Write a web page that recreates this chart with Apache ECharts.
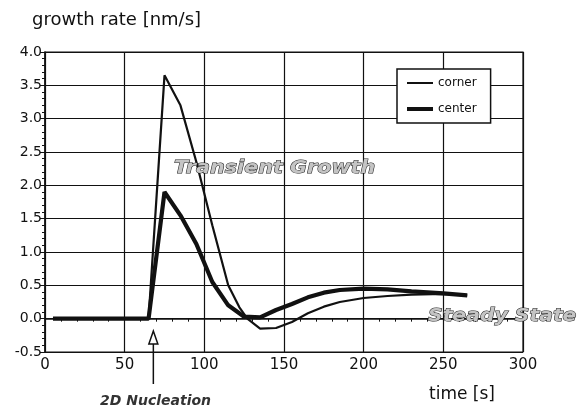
<!DOCTYPE html>
<html><head><meta charset="utf-8">
<script src="https://cdn.jsdelivr.net/npm/echarts@6/dist/echarts.min.js"></script>
<style>html,body{margin:0;padding:0;background:#fff}#c{width:580px;height:409px}</style>
</head><body><div id="c"></div>
<script>
// time [s]
const cornerTime = [5, 65, 75, 85, 95, 105, 115, 122, 127, 135, 145, 155, 165, 175, 185, 200, 215, 230, 250, 265];
const cornerRate = [0, 0, 3.65, 3.2, 2.35, 1.4, 0.5, 0.17, 0.0, -0.15, -0.14, -0.05, 0.08, 0.18, 0.25, 0.31, 0.34, 0.36, 0.37, 0.35];
const centerTime = [5, 65, 75, 85, 95, 105, 115, 125, 135, 145, 155, 165, 175, 185, 200, 215, 230, 250, 265];
const centerRate = [0, 0, 1.9, 1.55, 1.12, 0.55, 0.2, 0.03, 0.02, 0.13, 0.22, 0.32, 0.39, 0.43, 0.45, 0.44, 0.41, 0.38, 0.35];
const seriesNames = ['corner', 'center'];
const yLabel = 'growth rate [nm/s]';
const xLabel = 'time [s]';
const annotations = ['Transient Growth', 'Steady State', '2D Nucleation'];
const nucleationTime = 68;

const pair = (xs, ys) => xs.map((x, i) => [x, ys[i]]);
const FONT = 'DejaVu Sans';
const chart = echarts.init(document.getElementById('c'), null, {renderer: 'canvas'});
chart.setOption({
  animation: false,
  backgroundColor: '#fff',
  title: [
    {text: yLabel, left: 27, top: 6, textStyle: {fontFamily: FONT, fontSize: 18, fontWeight: 'normal', color: '#111'}},
    {text: xLabel, left: 424, top: 381, textStyle: {fontFamily: FONT, fontSize: 17, fontWeight: 'normal', color: '#111'}}
  ],
  grid: {left: 45, right: 57, top: 52, bottom: 57, show: true, borderColor: '#111', borderWidth: 1.2, backgroundColor: 'transparent'},
  legend: {
    orient: 'vertical', left: 397, top: 69,
    data: [
      {name: seriesNames[0], lineStyle: {width: 2}},
      {name: seriesNames[1], lineStyle: {width: 4}}
    ],
    itemStyle: {opacity: 0},
    itemWidth: 26, itemHeight: 12, itemGap: 14,
    padding: [8, 14, 8, 8],
    borderColor: '#111', borderWidth: 1.5, backgroundColor: '#fff',
    textStyle: {fontFamily: FONT, fontSize: 12, color: '#111'}
  },
  xAxis: {
    type: 'value', min: 0, max: 300, interval: 50,
    axisLine: {lineStyle: {color: '#111', width: 1.5}},
    axisTick: {show: true, length: 5, lineStyle: {color: '#111'}},
    minorTick: {show: true, splitNumber: 5, length: 3, lineStyle: {color: '#111'}},
    axisLabel: {fontFamily: FONT, fontSize: 15, color: '#111', margin: 6},
    splitLine: {show: true, lineStyle: {color: '#111', width: 1.2}}
  },
  yAxis: {
    type: 'value', min: -0.5, max: 4.0, interval: 0.5,
    axisLine: {show: true, lineStyle: {color: '#111', width: 1.5}},
    axisTick: {show: true, length: 5, lineStyle: {color: '#111'}},
    minorTick: {show: true, splitNumber: 5, length: 3, lineStyle: {color: '#111'}},
    axisLabel: {fontFamily: FONT, fontSize: 14, color: '#111', margin: 3, formatter: v => v.toFixed(1)},
    splitLine: {show: true, lineStyle: {color: '#111', width: 1.2}}
  },
  series: [
    {name: seriesNames[0], type: 'line', data: pair(cornerTime, cornerRate), symbol: 'none',
     lineStyle: {color: '#111', width: 2.2}, itemStyle: {color: '#111'}, z: 3},
    {name: seriesNames[1], type: 'line', data: pair(centerTime, centerRate), symbol: 'none',
     lineStyle: {color: '#111', width: 4.2}, itemStyle: {color: '#111'}, z: 4}
  ]
});

const ax = chart.convertToPixel({gridIndex: 0}, [nucleationTime, -0.5]);
const outlined = {fontFamily: FONT, fontSize: 18, fontWeight: 'bold', fontStyle: 'italic', fill: '#c4c4c4', stroke: '#222', lineWidth: 1};
chart.setOption({
  graphic: [
    {type: 'text', x: 174, y: 159, scaleX: 1.15, z: 10, style: Object.assign({text: annotations[0]}, outlined)},
    {type: 'text', x: 428, y: 307, scaleX: 1.13, z: 10, style: Object.assign({text: annotations[1]}, outlined)},
    {type: 'text', x: 100, y: 394, z: 10, style: {text: annotations[2], fontFamily: FONT, fontSize: 14, fontWeight: 'bold', fontStyle: 'italic', fill: '#333'}},
    {type: 'line', z: 10, shape: {x1: ax[0], y1: ax[1] - 8, x2: ax[0], y2: ax[1] + 32}, style: {stroke: '#111', lineWidth: 1.5}},
    {type: 'polygon', z: 11, shape: {points: [[ax[0], ax[1] - 21], [ax[0] - 4.5, ax[1] - 8], [ax[0] + 4.5, ax[1] - 8]]}, style: {fill: '#fff', stroke: '#111', lineWidth: 1.5}}
  ]
});
</script></body></html>
